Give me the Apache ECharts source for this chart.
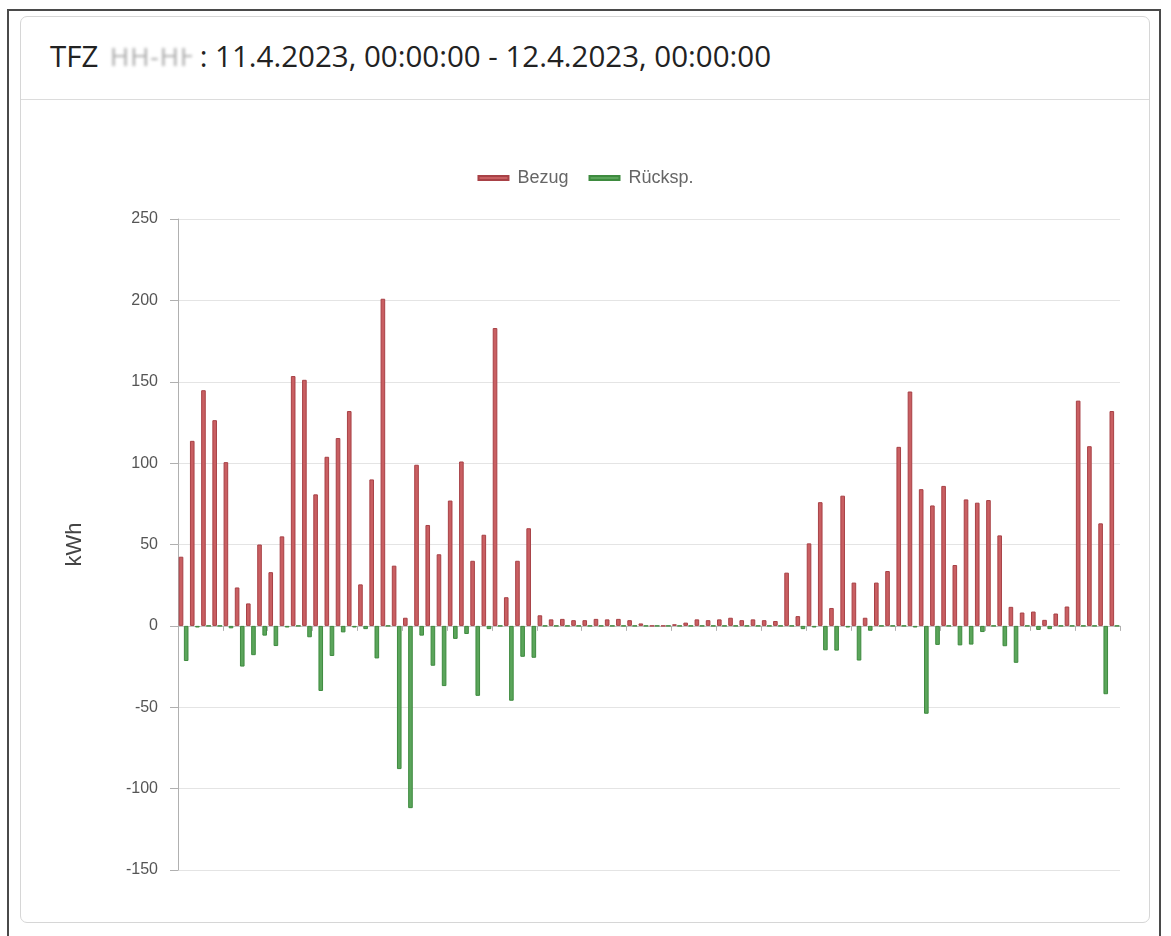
<!DOCTYPE html>
<html>
<head>
<meta charset="utf-8">
<script src="https://cdn.jsdelivr.net/npm/echarts@6/dist/echarts.min.js"></script>
<style>
  html, body { margin:0; padding:0; background:#fff; width:1171px; height:936px; overflow:hidden; }
  #frame { position:absolute; left:7px; top:9px; width:1154px; height:940px; border:2px solid #4a4a4a; border-bottom:none; box-sizing:border-box; }
  #card { position:absolute; left:20px; top:16px; width:1130px; height:907px; border:1px solid #d6d6d6; border-radius:7px; box-sizing:border-box; background:#fff; }
  #head { position:absolute; left:0; top:0; right:0; height:82px; border-bottom:1px solid #dcdcdc; }
  #title { position:absolute; left:29px; top:19px; font-family:"Open Sans", "Liberation Sans", Arial, sans-serif; font-size:29.5px; line-height:40px; color:#222; white-space:nowrap; }
  #blur { display:inline-block; width:82px; overflow:hidden; white-space:nowrap; vertical-align:bottom; height:40px; color:#a8a8a8; filter:blur(1.8px); font-size:26px; letter-spacing:1px; margin-left:4px; }
  #chart { position:absolute; left:0; top:0; width:1171px; height:936px; }
</style>
</head>
<body>
<div id="frame"></div>
<div id="card"><div id="head"><div id="title">TFZ <span id="blur">HH-HHJ</span> : 11.4.2023, 00:00:00 - 12.4.2023, 00:00:00</div></div></div>
<div id="chart"></div>
<script>
const categories = ["00:00","00:15","00:30","00:45","01:00","01:15","01:30","01:45","02:00","02:15","02:30","02:45",
"03:00","03:15","03:30","03:45","04:00","04:15","04:30","04:45","05:00","05:15","05:30","05:45",
"06:00","06:15","06:30","06:45","07:00","07:15","07:30","07:45","08:00","08:15","08:30","08:45",
"09:00","09:15","09:30","09:45","10:00","10:15","10:30","10:45","11:00","11:15","11:30","11:45",
"12:00","12:15","12:30","12:45","13:00","13:15","13:30","13:45","14:00","14:15","14:30","14:45",
"15:00","15:15","15:30","15:45","16:00","16:15","16:30","16:45","17:00","17:15","17:30","17:45",
"18:00","18:15","18:30","18:45","19:00","19:15","19:30","19:45","20:00","20:15","20:30","20:45"];

const bezug = [42.5,113.7,144.8,126.4,100.6,23.6,13.8,50,33,55,153.5,151.2,
80.8,103.9,115.4,132,25.5,90,201,37,5,99,62,44,
77,101,40,56,183,17.6,40,60,6.5,4,4.3,3.5,
3.5,4.3,4,4.3,3.5,1.5,0,0,1,2,4,3.5,
4,5,3.5,4,3.5,3,32.7,6,50.7,76,11,80,
26.6,5,26.6,33.7,110,144,84,74,86,37.4,77.7,75.7,
77.3,55.6,11.7,8.2,8.8,3.7,7.6,11.9,138.4,110.4,63,132];

const rueckspeisung = [-21.6,-1,0,0,-1.5,-25,-18,-6,-12.4,-1,0,-7,
-40,-18.5,-4,-1,-2,-20,0,-88,-112,-6,-24.5,-37,
-8,-5,-43,-2,0,-46,-19,-19.6,0,0,0,0,
0,0,0,0,0,0,0,0,0,0,0,0,
0,0,0,0,0,0,0,-2,-1,-15,-15.2,-1,
-21.3,-3,0,0,0,-1,-54,-11.7,0,-12,-11.5,-3.8,
0,-12.5,-22.7,0,-2.5,-2,0,0,0,0,-42,0];

const seriesNames = ["Bezug", "Rücksp."];
const yTicks = { min: -150, max: 250, interval: 50 };

const chart = echarts.init(document.getElementById('chart'), null, { renderer: 'canvas' });
const font = '"Liberation Sans", Arial, sans-serif';
chart.setOption({
  animation: false,
  backgroundColor: 'transparent',
  textStyle: { fontFamily: font },
  legend: {
    top: 164,
    left: 'center',
    itemWidth: 30,
    itemHeight: 4,
    itemGap: 20,
    icon: 'rect',
    textStyle: { color: '#666', fontSize: 18, fontFamily: font, padding: [0, 0, 0, 4] },
    data: seriesNames
  },
  grid: { left: 178, right: 51, top: 219, bottom: 66, containLabel: false },
  xAxis: {
    type: 'category',
    data: categories,
    axisLine: { onZero: true, lineStyle: { color: '#c4c4c4', width: 1 } },
    axisTick: { show: true, length: 5, alignWithLabel: false, lineStyle: { color: '#b0b0b0' } },
    axisLabel: { show: false },
    splitLine: { show: false }
  },
  yAxis: {
    type: 'value',
    min: yTicks.min, max: yTicks.max, interval: yTicks.interval,
    name: 'kWh',
    nameLocation: 'middle',
    nameGap: 92,
    nameRotate: 90,
    nameTextStyle: { fontSize: 22, color: '#444', fontFamily: font },
    axisLine: { show: true, lineStyle: { color: '#b0b0b0' } },
    axisTick: { show: true, length: 8, lineStyle: { color: '#b0b0b0' } },
    axisLabel: { color: '#555', fontSize: 16, margin: 20, fontFamily: font },
    splitLine: { show: true, lineStyle: { color: '#e4e4e4' } }
  },
  series: [
    {
      name: seriesNames[0], type: 'bar', data: bezug,
      barWidth: 4.6, barGap: '12%',
      itemStyle: { color: '#c95f62', borderColor: '#a84146', borderWidth: 1 }
    },
    {
      name: seriesNames[1], type: 'bar', data: rueckspeisung,
      barWidth: 4.6, barGap: '12%',
      itemStyle: { color: '#5ba55b', borderColor: '#3e8b3f', borderWidth: 1 }
    }
  ]
});
</script>
</body>
</html>
